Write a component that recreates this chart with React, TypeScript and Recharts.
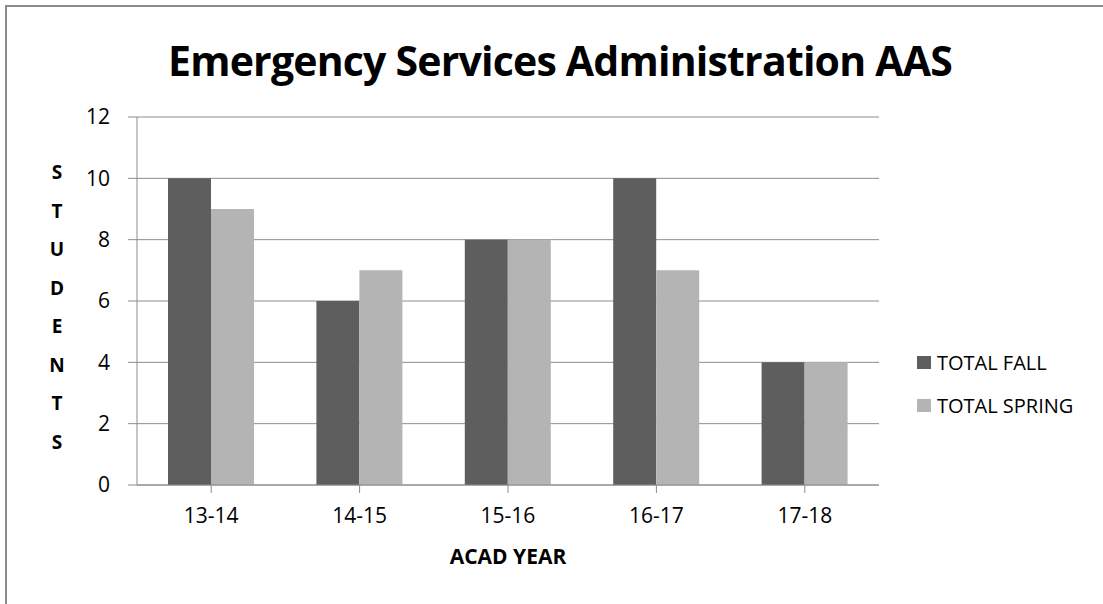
import React from 'react';
import { BarChart, Bar, XAxis, YAxis, CartesianGrid } from 'recharts';

// Students per academic year, fall vs spring
const YEARS = ['13-14', '14-15', '15-16', '16-17', '17-18'];
const TOTAL_FALL = [10, 6, 8, 10, 4];
const TOTAL_SPRING = [9, 7, 8, 7, 4];
const Y_TICKS = [0, 2, 4, 6, 8, 10, 12];
const Y_TITLE = 'STUDENTS';
const SERIES = [
  { key: 'fall', label: 'TOTAL FALL', color: '#5e5e5e' },
  { key: 'spring', label: 'TOTAL SPRING', color: '#b4b4b4' },
];

const LINE_COLOR = '#8c8c8c';
const FONT = '"Open Sans", "Noto Sans", sans-serif';

const data = YEARS.map((year, i) => ({
  year,
  fall: TOTAL_FALL[i],
  spring: TOTAL_SPRING[i],
}));

// stacked vertical letters for the y axis title
const StackedTitle = () => (
  <text x={57} y={0} textAnchor="middle" fontFamily={FONT} fontWeight="bold" fontSize={19} fill="#000">
    {Y_TITLE.split('').map((ch, i) => (
      <tspan key={i} x={57} y={179 + i * 38.5}>
        {ch}
      </tspan>
    ))}
  </text>
);

export default function App() {
  return (
    <div style={{ position: 'relative', width: 1103, height: 604, background: '#fff', overflow: 'hidden' }}>
      <style>{'body { margin: 0; }'}</style>
      {/* outer chart border */}
      <div
        style={{
          position: 'absolute',
          left: 5,
          top: 5,
          width: 1110,
          height: 620,
          border: `2px solid ${LINE_COLOR}`,
          boxSizing: 'border-box',
        }}
      />
      <div
        style={{
          position: 'absolute',
          left: 0,
          top: 32,
          width: 1120,
          textAlign: 'center',
          fontFamily: FONT,
          fontWeight: 'bold',
          fontSize: 41,
          letterSpacing: -0.8,
          lineHeight: '56px',
          color: '#000',
        }}
      >
        Emergency Services Administration AAS
      </div>
      <div style={{ position: 'absolute', left: 0, top: 0 }}>
        <BarChart
          width={1103}
          height={604}
          data={data}
          margin={{ top: 117, right: 224, left: 0, bottom: 0 }}
          barCategoryGap={31}
          barGap={0}
        >
          <CartesianGrid vertical={false} stroke={LINE_COLOR} strokeWidth={1} />
          <XAxis
            dataKey="year"
            height={119}
            stroke={LINE_COLOR}
            tickSize={8}
            tickMargin={15}
            tick={{ fill: '#000', fontSize: 21, fontFamily: FONT }}
            label={{
              value: 'ACAD YEAR',
              position: 'insideTop',
              offset: 64,
              fill: '#000',
              fontSize: 21,
              fontWeight: 'bold',
              fontFamily: FONT,
            }}
          />
          <YAxis
            width={137}
            domain={[0, 12]}
            ticks={Y_TICKS}
            interval={0}
            stroke={LINE_COLOR}
            tickSize={9}
            tickMargin={18}
            tick={{ fill: '#000', fontSize: 21, fontFamily: FONT }}
            label={<StackedTitle />}
          />
          {SERIES.map((s) => (
            <Bar key={s.key} dataKey={s.key} name={s.label} fill={s.color} isAnimationActive={false} />
          ))}
        </BarChart>
      </div>
      {/* legend */}
      <div style={{ position: 'absolute', left: 917, top: 341, fontFamily: FONT, fontSize: 20, color: '#000' }}>
        {SERIES.map((s) => (
          <div key={s.key} style={{ display: 'flex', alignItems: 'center', height: 43 }}>
            <span style={{ width: 14, height: 13, background: s.color, marginRight: 6, display: 'inline-block' }} />
            <span>{s.label}</span>
          </div>
        ))}
      </div>
    </div>
  );
}
